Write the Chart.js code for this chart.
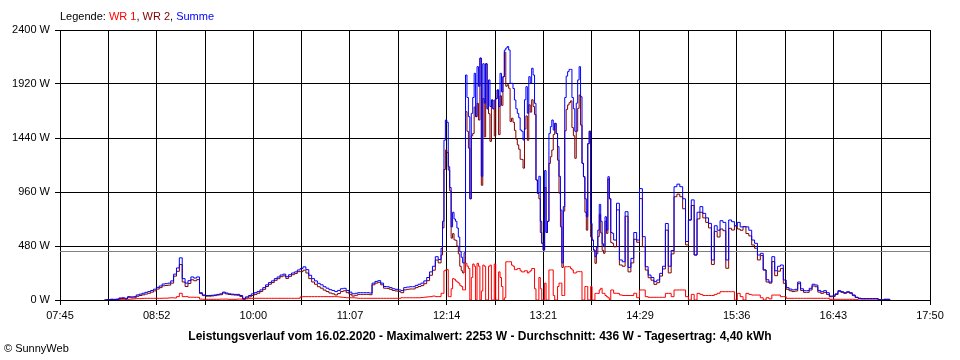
<!DOCTYPE html>
<html>
<head>
<meta charset="utf-8">
<script src="https://cdn.jsdelivr.net/npm/chart.js@4/dist/chart.umd.min.js"></script>
<style>
  html, body { margin: 0; padding: 0; background: #fff; }
  #wrap { width: 960px; height: 360px; }
</style>
</head>
<body>
<div id="wrap"><canvas id="powerChart" width="960" height="360"></canvas></div>
<script>
// sampling grid of the log (minutes after midnight)
const firstSample = 496;   // 08:16
const sampleStep = 2;
// extra samples at the odd minutes of the cloudy midday part
const detailStart = 731;   // 12:11

// x axis labels, every second grid line
const timeLabels = ['07:45', '08:52', '10:00', '11:07', '12:14', '13:21', '14:29', '15:36', '16:43', '17:50'];
const yTicks = [0, 480, 960, 1440, 1920, 2400];
const avgValue = 436;

// Summe (blue)
const summe = [
  0, 3, 6, 6, 8, 18, 20, 15, 30, 28,
  30, 45, 52, 60, 68, 75, 85, 96, 112, 125,
  142, 145, 150, 170, 230, 285, 375, 190, 150, 172,
  205, 195, 205, 65, 45, 40, 40, 42, 45, 50,
  55, 70, 62, 55, 52, 50, 50, 40, 15, 28,
  40, 55, 65, 75, 90, 110, 135, 155, 170, 190,
  205, 222, 230, 207, 225, 240, 250, 267, 280, 295,
  270, 220, 190, 170, 148, 135, 118, 105, 92, 85,
  75, 85, 100, 104, 85, 70, 55, 60, 65, 65,
  65, 65, 62, 150, 165, 172, 150, 120, 118, 110,
  100, 95, 90, 85, 110, 115, 118, 118, 130, 140,
  150, 170, 200, 250, 300, 385, 360, 460, 1420, 1580,
  1000, 780, 700, 560, 380, 420, 1800, 900, 1800, 1630,
  1900, 1100, 1750, 1700, 1720, 1700, 1790, 1720, 1850, 2222,
  2253, 1926, 1880, 1700, 1620, 1500, 1780, 1660, 1930, 2000,
  1067, 1100, 504, 1150, 700, 1541, 1511, 1480, 1100, 330,
  1800, 2030, 2050, 1700, 1750, 2074, 1215, 900, 1390, 681,
  444, 470, 850, 500, 740, 1096, 600, 533, 860, 356,
  340, 785, 290, 370, 600, 533, 990, 563, 296, 222,
  200, 163, 178, 237, 300, 680, 300, 440, 1007, 1030,
  1007, 900, 520, 711, 890, 400, 780, 830, 770, 730,
  681, 356, 660, 620, 705, 690, 356, 711, 696, 660,
  690, 650, 652, 650, 620, 533, 504, 400, 415, 267,
  180, 160, 385, 260, 300, 311, 178, 110, 97, 90,
  95, 160, 100, 83, 83, 104, 140, 133, 85, 74,
  83, 65, 35, 36, 55, 83, 74, 65, 74, 65,
  45, 25, 15, 12, 12, 12, 12, 12, 12, 3,
  0, 6, 6, 0
];

// WR 1 (red)
const wr1 = [
  0, 0, 0, 3, 3, 5, 6, 6, 6, 8,
  10, 12, 12, 14, 15, 15, 15, 15, 15, 15,
  16, 16, 18, 20, 18, 30, 60, 30, 30, 25,
  25, 24, 24, 8, 6, 6, 6, 6, 6, 6,
  8, 8, 8, 6, 6, 6, 8, 8, 5, 10,
  12, 15, 15, 15, 15, 15, 15, 15, 15, 15,
  15, 15, 15, 15, 15, 15, 15, 15, 28, 30,
  30, 30, 30, 30, 30, 30, 30, 30, 30, 30,
  30, 28, 25, 22, 20, 20, 20, 18, 15, 15,
  15, 15, 15, 15, 15, 15, 15, 15, 15, 15,
  15, 15, 15, 20, 20, 20, 20, 20, 20, 20,
  22, 25, 28, 30, 35, 30, 30, 60, 260, 270,
  30, 190, 170, 150, 120, 90, 300, 0, 320, 0,
  300, 80, 300, 0, 310, 0, 0, 250, 120, 20,
  340, 340, 300, 270, 280, 250, 260, 240, 260, 280,
  0, 200, 0, 150, 0, 267, 40, 0, 150, 40,
  296, 296, 280, 240, 250, 252, 0, 120, 0, 120,
  0, 59, 90, 59, 40, 20, 89, 60, 59, 45,
  40, 40, 40, 40, 60, 20, 89, 89, 30, 24,
  24, 24, 24, 24, 24, 59, 59, 30, 89, 89,
  89, 89, 30, 0, 50, 0, 59, 50, 40, 40,
  40, 40, 50, 60, 74, 74, 74, 74, 74, 0,
  59, 30, 0, 59, 50, 44, 44, 44, 20, 0,
  20, 10, 44, 44, 44, 30, 30, 15, 15, 15,
  15, 15, 15, 15, 15, 15, 15, 15, 15, 15,
  15, 15, 6, 6, 6, 6, 6, 6, 6, 6,
  6, 3, 0, 0, 0, 0, 0, 0, 0, 0,
  0, 0, 0, 0
];

// WR 2 (dark red)
const wr2 = [
  0, 3, 6, 3, 5, 13, 14, 9, 24, 20,
  20, 33, 40, 46, 53, 60, 70, 81, 97, 110,
  126, 129, 132, 150, 212, 255, 315, 160, 120, 147,
  180, 171, 181, 57, 39, 34, 34, 36, 39, 44,
  47, 62, 54, 49, 46, 44, 42, 32, 10, 18,
  28, 40, 50, 60, 75, 95, 120, 140, 155, 175,
  190, 207, 215, 192, 210, 225, 235, 252, 252, 265,
  240, 190, 160, 140, 118, 105, 88, 75, 62, 55,
  45, 57, 75, 82, 65, 50, 35, 42, 50, 50,
  50, 50, 47, 135, 150, 157, 135, 105, 103, 95,
  85, 80, 75, 65, 90, 95, 98, 98, 110, 120,
  128, 145, 172, 220, 265, 355, 330, 400, 1160, 1310,
  970, 590, 530, 410, 260, 330, 1500, 900, 1480, 1630,
  1600, 1020, 1450, 1700, 1410, 1700, 1790, 1470, 1730, 2202,
  1913, 1586, 1580, 1430, 1340, 1250, 1520, 1420, 1670, 1720,
  1067, 900, 504, 1000, 700, 1274, 1471, 1480, 950, 290,
  1504, 1734, 1770, 1460, 1500, 1822, 1215, 780, 1390, 561,
  444, 411, 760, 441, 700, 1076, 511, 473, 801, 311,
  300, 745, 250, 330, 540, 513, 901, 474, 266, 198,
  176, 139, 154, 213, 276, 621, 241, 410, 918, 941,
  918, 811, 490, 711, 840, 400, 721, 780, 730, 690,
  641, 316, 610, 560, 631, 616, 282, 637, 622, 660,
  631, 620, 652, 591, 570, 489, 460, 356, 395, 267,
  160, 150, 341, 216, 256, 281, 148, 95, 82, 75,
  80, 145, 85, 68, 68, 89, 125, 118, 70, 59,
  68, 50, 29, 30, 49, 77, 68, 59, 68, 59,
  39, 22, 15, 12, 12, 12, 12, 12, 12, 3,
  0, 6, 6, 0
];

// odd-minute samples 12:11 .. 14:09
const summeDetail = [
  700, 1600, 1185, 650, 720, 640, 430, 330, 2000, 1630,
  1659, 2015, 2074, 2150, 2100, 2100, 1956, 1778, 1778, 1867,
  2015, 1985, 2240, 2222, 1926, 1778, 1659, 1511, 1422, 1896,
  1985, 2060, 1748, 948, 700, 444, 600, 1481, 1600, 1570,
  1363, 800, 830, 1990, 2050, 1800, 1500, 1956, 1807, 1096,
  741, 1500, 533, 385, 622, 700, 474, 622, 900, 593
];
const wr1Detail = [
  59, 267, 30, 100, 185, 160, 130, 90, 326, 280,
  200, 300, 326, 0, 310, 0, 300, 0, 320, 0,
  200, 0, 340, 340, 310, 270, 280, 260, 250, 260,
  250, 280, 100, 0, 100, 0, 0, 267, 267, 0,
  120, 150, 40, 296, 296, 267, 240, 252, 252, 0,
  120, 0, 0, 59, 59, 104, 59, 30, 0, 89
];
const wr2Detail = [
  641, 1333, 1155, 550, 535, 480, 300, 240, 1674, 1350,
  1459, 1715, 1748, 2150, 1790, 2100, 1656, 1778, 1458, 1867,
  1815, 1985, 1900, 1882, 1616, 1508, 1379, 1251, 1172, 1636,
  1735, 1780, 1648, 948, 600, 444, 600, 1214, 1333, 1570,
  1243, 650, 790, 1694, 1754, 1533, 1260, 1704, 1555, 1096,
  621, 1500, 533, 326, 563, 596, 415, 592, 900, 504
];

const xMin = 465;   // 07:45
const xMax = 1070;  // 17:50

function toPoints(values, detail) {
  const pts = values.map((v, i) => ({ x: firstSample + i * sampleStep, y: v }));
  detail.forEach((v, i) => pts.push({ x: detailStart + i * sampleStep, y: v }));
  return pts.sort((a, b) => a.x - b.x);
}

const fontFamily = '"Liberation Sans", Arial, sans-serif';

// texts around the plot and the average line
const extrasPlugin = {
  id: 'extras',
  beforeDatasetsDraw(chart) {
    const { ctx, chartArea, scales } = chart;
    const y = Math.round(scales.y.getPixelForValue(avgValue)) + 0.5;
    ctx.save();
    ctx.strokeStyle = '#808080';
    ctx.lineWidth = 1;
    ctx.beginPath();
    ctx.moveTo(chartArea.left, y);
    ctx.lineTo(chartArea.right, y);
    ctx.stroke();
    ctx.restore();
  },
  afterDraw(chart) {
    const ctx = chart.ctx;
    ctx.save();
    ctx.textBaseline = 'middle';
    ctx.font = '11px ' + fontFamily;
    let x = 60;
    const parts = [['Legende: ', '#000000'], ['WR 1', '#ff0000'], [', ', '#000000'],
                   ['WR 2', '#800000'], [', ', '#000000'], ['Summe', '#0000ff']];
    parts.forEach(p => {
      ctx.fillStyle = p[1];
      ctx.fillText(p[0], x, 17);
      x += ctx.measureText(p[0]).width;
    });
    ctx.fillStyle = '#000000';
    ctx.font = 'bold 12px ' + fontFamily;
    ctx.textAlign = 'center';
    ctx.fillText('Leistungsverlauf vom 16.02.2020 - Maximalwert: 2253 W - Durchschnitt: 436 W - Tagesertrag: 4,40 kWh', 480, 337);
    ctx.textAlign = 'left';
    ctx.font = '11px ' + fontFamily;
    ctx.fillText('\u00a9 SunnyWeb', 4, 349);
    ctx.restore();
  }
};

const ctx = document.getElementById('powerChart').getContext('2d');
const powerChart = new Chart(ctx, {
  type: 'line',
  data: {
    datasets: [
      {
        label: 'Summe',
        data: toPoints(summe, summeDetail),
        borderColor: '#0000ff',
        borderWidth: 1,
        stepped: true,
        pointRadius: 0,
        order: 0
      },
      {
        label: 'WR 2',
        data: toPoints(wr2, wr2Detail),
        borderColor: '#800000',
        borderWidth: 1,
        stepped: true,
        pointRadius: 0,
        order: 1
      },
      {
        label: 'WR 1',
        data: toPoints(wr1, wr1Detail),
        borderColor: '#ff0000',
        borderWidth: 1,
        stepped: true,
        pointRadius: 0,
        order: 2
      }
    ]
  },
  options: {
    responsive: false,
    animation: false,
    layout: { padding: { left: 0, right: 30, top: 30, bottom: 0 } },
    plugins: {
      legend: { display: false },
      tooltip: { enabled: false }
    },
    scales: {
      x: {
        type: 'linear',
        min: xMin,
        max: xMax,
        afterBuildTicks: (scale) => {
          const ticks = [];
          for (let i = 0; i <= 18; i++) {
            ticks.push({ value: xMin + i * (xMax - xMin) / 18 });
          }
          scale.ticks = ticks;
        },
        afterFit: (scale) => { scale.height = 60; },
        ticks: {
          autoSkip: false,
          maxRotation: 0,
          padding: 4,
          color: '#000000',
          font: { family: fontFamily, size: 11 },
          callback: (value, index) => (index % 2 === 0 ? timeLabels[index / 2] : '')
        },
        grid: { color: '#000000', lineWidth: 1, tickLength: 5 },
        border: { color: '#000000' }
      },
      y: {
        min: 0,
        max: 2400,
        afterBuildTicks: (scale) => {
          scale.ticks = yTicks.map(v => ({ value: v }));
        },
        afterFit: (scale) => { scale.width = 60; },
        ticks: {
          padding: 5,
          color: '#000000',
          font: { family: fontFamily, size: 11 },
          callback: (value) => value + ' W'
        },
        grid: { color: '#000000', lineWidth: 1, tickLength: 5 },
        border: { color: '#000000' }
      }
    }
  },
  plugins: [extrasPlugin]
});
</script>
</body>
</html>
